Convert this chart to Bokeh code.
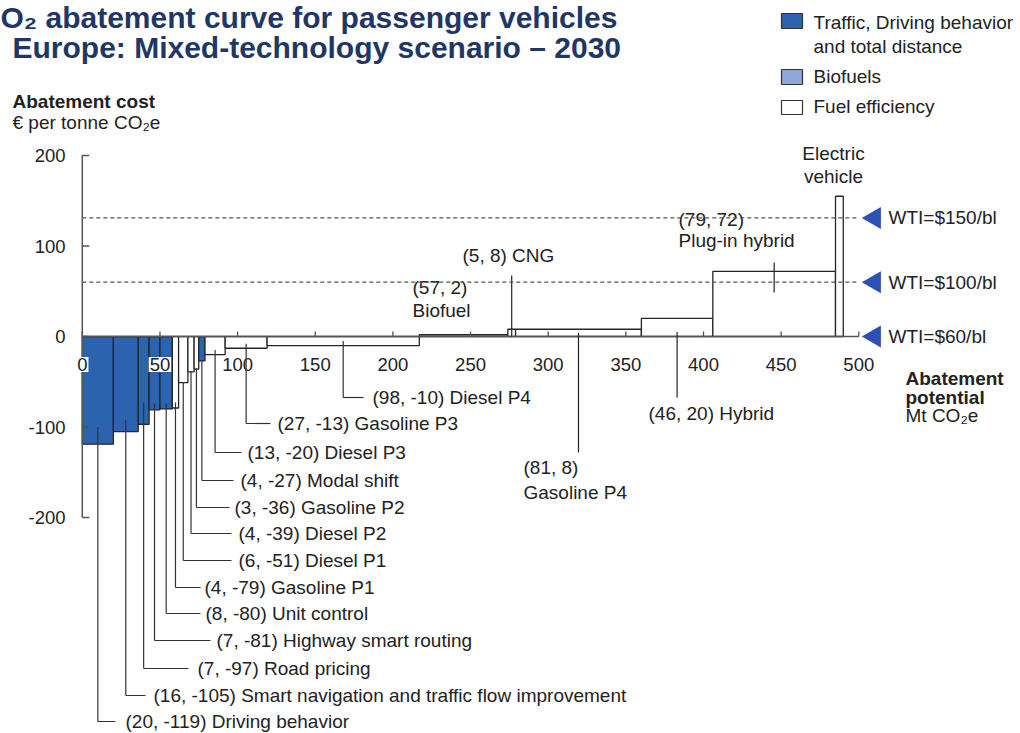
import numpy as np
from bokeh.plotting import figure
from bokeh.models import Range1d
from bokeh.core.properties import value
from bokeh.embed import file_html
from bokeh.resources import INLINE

# ---------------- data ----------------
measures = ["Driving behavior", "Smart navigation and traffic flow improvement",
            "Road pricing", "Highway smart routing", "Unit control", "Gasoline P1",
            "Diesel P1", "Diesel P2", "Gasoline P2", "Modal shift", "Diesel P3",
            "Gasoline P3", "Diesel P4", "Biofuel", "CNG", "Gasoline P4", "Hybrid",
            "Plug-in hybrid", "Electric vehicle"]
potential = [20, 16, 7, 7, 8, 4, 6, 4, 3, 4, 13, 27, 98, 57, 5, 81, 46, 79, 5]
cost = [-119, -105, -97, -81, -80, -79, -51, -39, -36, -27, -20, -13, -10, 2, 8, 8, 20, 72, 155]
group = ["traffic", "traffic", "traffic", "traffic", "traffic", "fuel", "fuel", "fuel",
         "fuel", "traffic", "fuel", "fuel", "fuel", "biofuel", "fuel", "fuel", "fuel",
         "fuel", "fuel"]
x_ticks = [0, 50, 100, 150, 200, 250, 300, 350, 400, 450, 500]
y_ticks = [-200, -100, 0, 100, 200]
wti_labels = ["WTI=$150/bl", "WTI=$100/bl", "WTI=$60/bl"]
wti_cost = [131, 60, 0]
legend_labels = [["Traffic, Driving behavior", "and total distance"], ["Biofuels"], ["Fuel efficiency"]]
legend_groups = ["traffic", "biofuel", "fuel"]

# ---------------- style / layout ----------------
FONT = "Liberation Sans"
TXT = "#222222"
colors = {"traffic": "#2B63AF", "biofuel": "#91A7D9", "fuel": "#FFFFFF"}
W, H = 1020, 733


def X(px):  # canvas pixel -> data x
    return (px - 81.8) / 1.553


def Y(py):  # canvas pixel -> data y
    return (336.0 - py) / 0.905


p = figure(width=W, height=H, x_range=Range1d(X(0), X(W)),
           y_range=Range1d(Y(H), Y(0)), output_backend="svg",
           toolbar_location=None, tools="", x_axis_location=None,
           y_axis_location=None, min_border=0)
p.grid.visible = False
p.outline_line_color = None
p.background_fill_color = "white"
p.border_fill_color = "white"


def txt(xs, ys, texts, size="19px", style="normal", color=TXT, align="left", **kw):
    p.text(x=xs, y=ys, text=texts, text_font=value(FONT), text_font_size=size,
           text_font_style=style, text_color=color, text_align=align,
           text_baseline="middle", **kw)


# ---------------- bars ----------------
right = np.cumsum(potential)
left = right - np.array(potential)
center = (left + right) / 2.0
top = [max(c, 0) for c in cost]
bottom = [min(c, 0) for c in cost]
fills = [colors[g] for g in group]
p.quad(left=left, right=right, top=top, bottom=bottom, fill_color=fills,
       line_color="#262626", line_width=1.3)

# ---------------- axes ----------------
AX = "#555555"
p.segment(x0=[x_ticks[0]], y0=[0], x1=[x_ticks[-1]], y1=[0], line_color=AX, line_width=1.5)
p.segment(x0=[0], y0=[y_ticks[0]], x1=[0], y1=[y_ticks[-1]], line_color=AX, line_width=1.5)
p.segment(x0=x_ticks, y0=[0] * len(x_ticks), x1=x_ticks, y1=[5.5] * len(x_ticks),
          line_color=AX, line_width=1.3)
p.segment(x0=[0] * len(y_ticks), y0=y_ticks, x1=[4.5] * len(y_ticks), y1=y_ticks,
          line_color=AX, line_width=1.3)

txt(x_ticks, [Y(364)] * len(x_ticks), [str(t) for t in x_ticks], size="18.5px",
    align="center", background_fill_color="white", padding=1)
txt([X(65)] * len(y_ticks), y_ticks, [str(t) for t in y_ticks], size="18.5px",
    align="right")

# ---------------- leaders + labels for the cheap measures ----------------
n_low = 13
label_py = [721, 695, 668, 640, 613, 587, 560, 533, 507, 480, 452, 423, 397]
hz_end_px = [115, 145, 188, 210, 200, 200, 231, 231, 229, 233, 241, 270, 363]
text_px = [125, 153, 197, 216, 205, 204, 238, 238, 234, 240, 247, 277, 372]
leader_from = [-100, -92, -73, -74, -74, -73, -51, -38, -35, -27, -15, -8, -5]

lx = [center[i] for i in range(n_low)]
ly = [Y(v) for v in label_py]
p.segment(x0=lx, y0=leader_from, x1=lx, y1=ly, line_color="#333333", line_width=1.2)
p.segment(x0=lx, y0=ly, x1=[X(v) for v in hz_end_px], y1=ly, line_color="#333333",
          line_width=1.2)
txt([X(v) for v in text_px], ly,
    [f"({potential[i]}, {cost[i]}) {measures[i]}" for i in range(n_low)])

# ---------------- upper labels ----------------
# Biofuel
txt([X(412)] * 2, [Y(287), Y(310)], [f"({potential[13]}, {cost[13]})", measures[13]])
# CNG
p.segment(x0=[center[14]], y0=[Y(275)], x1=[center[14]], y1=[0], line_color="#222222", line_width=1.2)
txt([X(462)], [Y(255)], [f"({potential[14]}, {cost[14]}) {measures[14]}"])
# Gasoline P4
p.segment(x0=[center[15]], y0=[4], x1=[center[15]], y1=[Y(452)], line_color="#222222", line_width=1.2)
txt([X(523)] * 2, [Y(467), Y(492)], [f"({potential[15]}, {cost[15]})", measures[15]])
# Hybrid
p.segment(x0=[center[16]], y0=[5], x1=[center[16]], y1=[Y(397)], line_color="#222222", line_width=1.2)
txt([X(648)], [Y(413)], [f"({potential[16]}, {cost[16]}) {measures[16]}"])
# Plug-in hybrid
p.segment(x0=[center[17]], y0=[Y(262)], x1=[center[17]], y1=[Y(292)], line_color="#222222", line_width=1.2)
txt([X(678)] * 2, [Y(219), Y(240)], [f"({potential[17]}, {cost[17]})", measures[17]])
# Electric vehicle
ev_words = measures[18].split(" ")
txt([X(833)] * 2, [Y(153), Y(176)], [ev_words[0], ev_words[1]], align="center")

# ---------------- WTI reference lines ----------------
dash_levels = [c for c in wti_cost if c != 0]
p.segment(x0=[x_ticks[0]] * len(dash_levels), y0=dash_levels,
          x1=[x_ticks[-1]] * len(dash_levels), y1=dash_levels,
          line_color="#555555", line_width=1.2, line_dash="4 3")
p.scatter(x=[X(874)] * len(wti_cost), y=wti_cost, marker="triangle", size=22,
          angle=np.pi / 2, fill_color="#2E4FB3", line_color=None)
txt([X(888)] * len(wti_cost), wti_cost, wti_labels)

# ---------------- axis titles ----------------
txt([X(12)], [Y(101)], ["Abatement cost"], style="bold")
txt([X(12)], [Y(122)], ["€ per tonne CO₂e"])
txt([X(905)] * 2, [Y(378), Y(396.5)], ["Abatement", "potential"], style="bold")
txt([X(905)], [Y(415)], ["Mt CO₂e"])

# ---------------- title ----------------
TITLE = "#1F3766"
txt([X(0)], [Y(17)], ["O₂ abatement curve for passenger vehicles"], size="30px",
    style="bold", color=TITLE)
txt([X(12)], [Y(47)], ["Europe:  Mixed-technology scenario – 2030"], size="30px",
    style="bold", color=TITLE)

# ---------------- legend ----------------
box_top = [13, 69, 100]
box_bot = [28, 84, 114]
p.quad(left=[X(781)] * 3, right=[X(802)] * 3, top=[Y(v) for v in box_top],
       bottom=[Y(v) for v in box_bot], fill_color=[colors[g] for g in legend_groups],
       line_color="#333333", line_width=1.2)
leg_x, leg_y, leg_t = [], [], []
leg_rows = [[22, 46], [76], [106]]
for rows, lines in zip(leg_rows, legend_labels):
    for r, t in zip(rows, lines):
        leg_x.append(X(813))
        leg_y.append(Y(r))
        leg_t.append(t)
txt(leg_x, leg_y, leg_t)

open("out.html", "w").write(file_html(p, INLINE))
